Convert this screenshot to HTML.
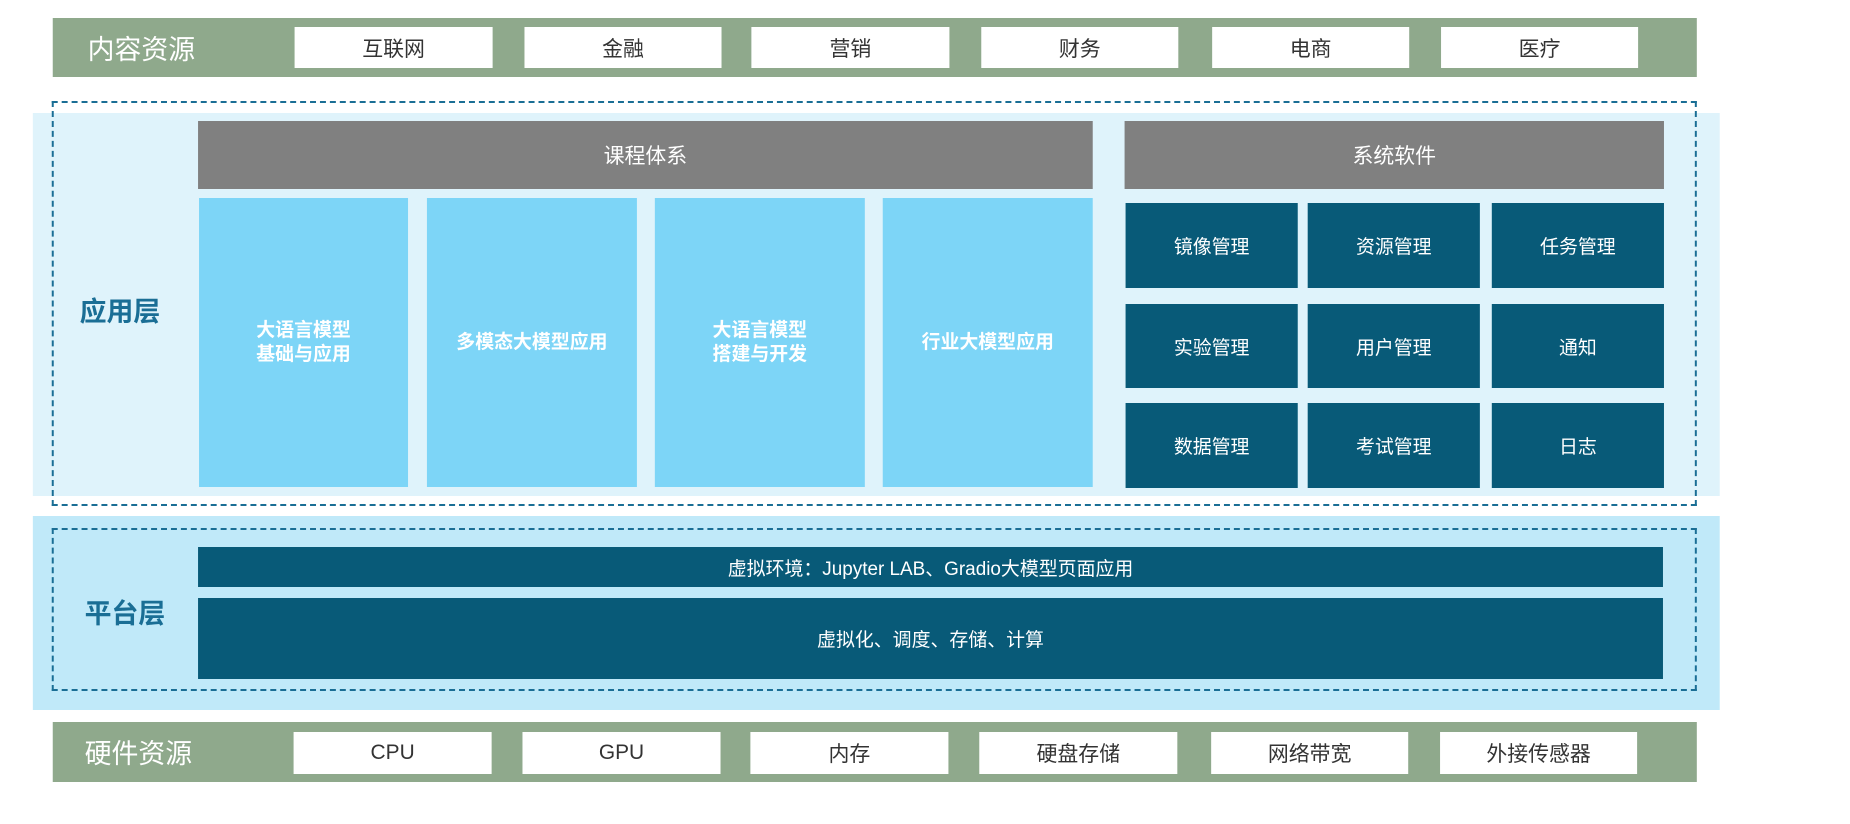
<!DOCTYPE html>
<html><head><meta charset="utf-8"><style>
*{margin:0;padding:0;box-sizing:border-box}
body{width:1850px;height:824px;background:#fff;position:relative;overflow:hidden;font-family:"Liberation Sans","Noto Sans CJK SC",sans-serif}
#w{position:absolute;left:0;top:0;width:1850px;height:824px;transform:scaleX(0.9952);transform-origin:0 0}
.a{position:absolute}
.c{display:flex;align-items:center;justify-content:center;text-align:center}
.green{background:#8fa98c}
.wb{background:#fff;color:#333;font-size:21px}
.gray{background:#808080;color:#fff;font-size:21px}
.lb{background:#7dd5f7;color:#fff;font-size:19px;font-weight:bold;line-height:1.25}
.db{background:#085a78;color:#fff;font-size:19px}
.lab{color:#fff;font-size:27px}
.lay{color:#1a6e95;font-size:27px;font-weight:bold}
</style></head><body><div id="w">
<div class="a green" style="left:53px;top:18px;width:1652px;height:59px"></div>
<div class="a lab" style="left:88px;top:28px">内容资源</div>
<div class="a c wb" style="left:296px;top:27px;width:199px;height:41px">互联网</div>
<div class="a c wb" style="left:527px;top:27px;width:198px;height:41px">金融</div>
<div class="a c wb" style="left:755px;top:27px;width:199px;height:41px">营销</div>
<div class="a c wb" style="left:986px;top:27px;width:198px;height:41px">财务</div>
<div class="a c wb" style="left:1218px;top:27px;width:198px;height:41px">电商</div>
<div class="a c wb" style="left:1448px;top:27px;width:198px;height:41px">医疗</div>

<div class="a" style="left:33px;top:113px;width:1695px;height:383px;background:#dff3fb"></div>
<div class="a" style="left:52px;top:101px;width:1653px;height:405px;border:2px dashed #1a6e95"></div>
<div class="a lay" style="left:80px;top:290px">应用层</div>
<div class="a c gray" style="left:199px;top:121px;width:899px;height:68px">课程体系</div>
<div class="a c gray" style="left:1130px;top:121px;width:542px;height:68px">系统软件</div>
<div class="a c lb" style="left:200px;top:198px;width:210px;height:289px">大语言模型<br>基础与应用</div>
<div class="a c lb" style="left:429px;top:198px;width:211px;height:289px">多模态大模型应用</div>
<div class="a c lb" style="left:658px;top:198px;width:211px;height:289px">大语言模型<br>搭建与开发</div>
<div class="a c lb" style="left:887px;top:198px;width:211px;height:289px">行业大模型应用</div>
<div class="a c db" style="left:1131px;top:203px;width:173px;height:85px">镜像管理</div>
<div class="a c db" style="left:1314px;top:203px;width:173px;height:85px">资源管理</div>
<div class="a c db" style="left:1499px;top:203px;width:173px;height:85px">任务管理</div>
<div class="a c db" style="left:1131px;top:304px;width:173px;height:84px">实验管理</div>
<div class="a c db" style="left:1314px;top:304px;width:173px;height:84px">用户管理</div>
<div class="a c db" style="left:1499px;top:304px;width:173px;height:84px">通知</div>
<div class="a c db" style="left:1131px;top:403px;width:173px;height:85px">数据管理</div>
<div class="a c db" style="left:1314px;top:403px;width:173px;height:85px">考试管理</div>
<div class="a c db" style="left:1499px;top:403px;width:173px;height:85px">日志</div>

<div class="a" style="left:33px;top:516px;width:1695px;height:194px;background:#c0e9f9"></div>
<div class="a" style="left:52px;top:528px;width:1653px;height:163px;border:2px dashed #1a6e95"></div>
<div class="a lay" style="left:85px;top:592px">平台层</div>
<div class="a c db" style="left:199px;top:547px;width:1472px;height:40px">虚拟环境：Jupyter LAB、Gradio大模型页面应用</div>
<div class="a c db" style="left:199px;top:598px;width:1472px;height:81px">虚拟化、调度、存储、计算</div>

<div class="a green" style="left:53px;top:722px;width:1652px;height:60px"></div>
<div class="a lab" style="left:85px;top:732px">硬件资源</div>
<div class="a c wb" style="left:295px;top:732px;width:199px;height:42px">CPU</div>
<div class="a c wb" style="left:525px;top:732px;width:199px;height:42px">GPU</div>
<div class="a c wb" style="left:754px;top:732px;width:199px;height:42px">内存</div>
<div class="a c wb" style="left:984px;top:732px;width:199px;height:42px">硬盘存储</div>
<div class="a c wb" style="left:1217px;top:732px;width:198px;height:42px">网络带宽</div>
<div class="a c wb" style="left:1447px;top:732px;width:198px;height:42px">外接传感器</div>
</div></body></html>
